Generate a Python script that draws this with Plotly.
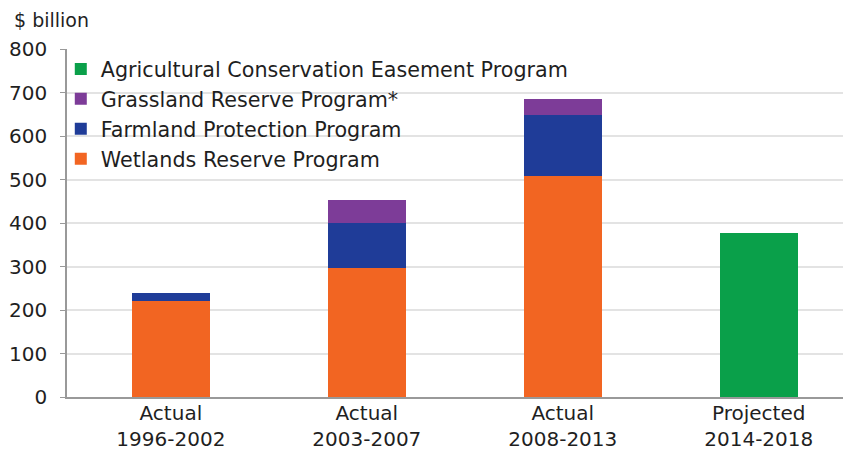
import plotly.graph_objects as go

categories = ["Actual<br>1996-2002", "Actual<br>2003-2007", "Actual<br>2008-2013", "Projected<br>2014-2018"]
wetlands = [220, 297, 507, None]
farmland = [20, 104, 142, None]
grassland = [None, 52, 35, None]
ag_easement = [None, None, None, 376]

series = [
    ("Wetlands Reserve Program", wetlands, "#F26522"),
    ("Farmland Protection Program", farmland, "#1F3C98"),
    ("Grassland Reserve Program*", grassland, "#7D3C98"),
    ("Agricultural Conservation Easement Program", ag_easement, "#0AA04A"),
]

fig = go.Figure()
for name, vals, color in series:
    fig.add_trace(go.Bar(x=categories, y=vals, name=name, marker=dict(color=color, line=dict(width=0)),
                         width=0.4))

font_family = "DejaVu Sans, Liberation Sans, sans-serif"
fig.update_layout(
    width=843, height=451,
    barmode="stack",
    plot_bgcolor="white", paper_bgcolor="white",
    margin=dict(l=67, r=0, t=49, b=54),
    font=dict(family=font_family, size=20, color="#1f1f1f"),
    legend=dict(x=-0.008, y=1.0, xanchor="left", yanchor="top", traceorder="reversed",
                font=dict(size=20.7), bgcolor="rgba(0,0,0,0)", itemwidth=30, tracegroupgap=0),
    annotations=[dict(text="$ billion", x=0, y=1, xref="paper", yref="paper", xshift=-55, yshift=29,
                      xanchor="left", yanchor="middle", showarrow=False, font=dict(size=19))],
)
fig.update_yaxes(range=[0, 800], dtick=100, showgrid=True, gridcolor="#e3e3e3", gridwidth=1.5,
                 showline=True, linecolor="#999999", linewidth=1.5, ticks="outside", ticklen=5,
                 tickcolor="#999999", zeroline=False, tickfont=dict(size=20), ticklabelstandoff=9,
                 automargin=False)
fig.update_xaxes(range=[-0.53, 3.43], showline=True, linecolor="#999999", linewidth=2, ticks="",
                 tickfont=dict(size=20), ticklabelstandoff=-3, automargin=False)
fig.write_html("out.html")
